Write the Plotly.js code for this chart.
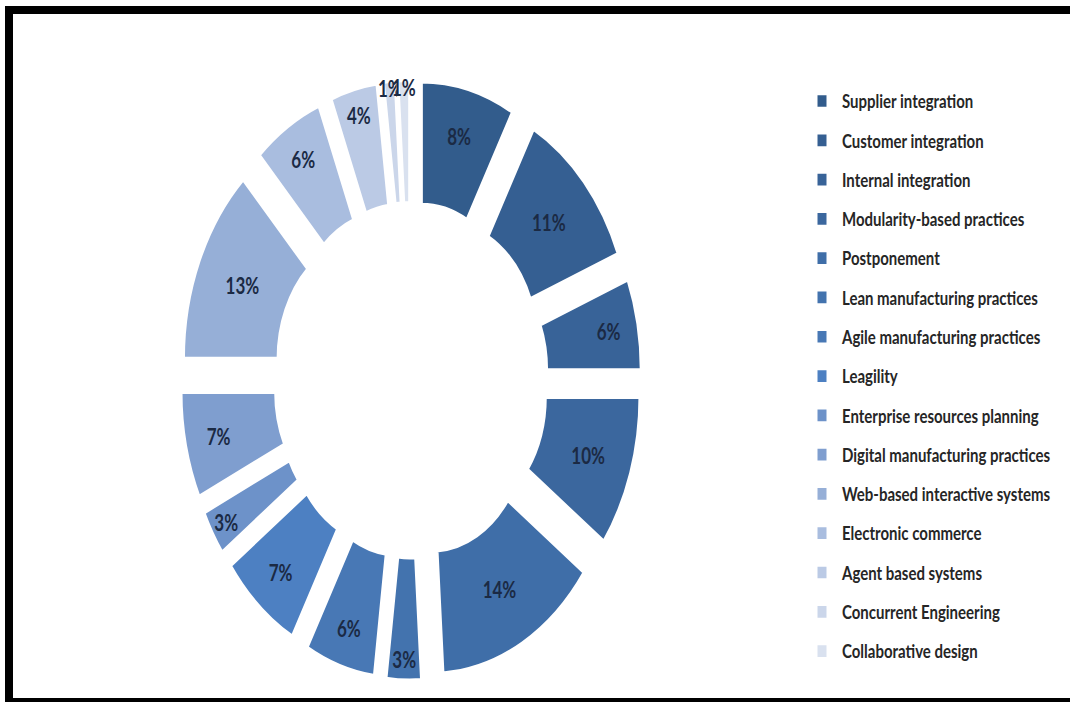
<!DOCTYPE html>
<html>
<head>
<meta charset="utf-8">
<script src="https://cdn.plot.ly/plotly-3.0.1.min.js"></script>
<style>
  html, body { margin: 0; padding: 0; background: #ffffff; overflow: hidden; }
  #chart { position: absolute; left: 0; top: 0; width: 1070px; height: 540px;
           transform: scaleY(1.3); transform-origin: 0 0; }
  #frame { position: absolute; left: 5px; top: 6px; width: 1090px; height: 698px;
           box-sizing: border-box; border-top: 8px solid #000; border-left: 8px solid #000;
           border-bottom: 6px solid #000; pointer-events: none; z-index: 10; }
</style>
</head>
<body>
<div id="chart"></div>
<div id="frame"></div>
<script>
// ---- data ----
const categories = [
  "Supplier integration",
  "Customer integration",
  "Internal integration",
  "Modularity-based practices",
  "Postponement",
  "Lean manufacturing practices",
  "Agile manufacturing practices",
  "Leagility",
  "Enterprise resources planning",
  "Digital manufacturing practices",
  "Web-based interactive systems",
  "Electronic commerce",
  "Agent based systems",
  "Concurrent Engineering",
  "Collaborative design"
];
const shares = [8, 11, 6, 10, 14, 3, 6, 7, 3, 7, 13, 6, 4, 1, 1];

// ---- styles ----
const sliceColors = [
  "#325c8c", "#355f92", "#386398", "#3b679e", "#3f6ea8",
  "#4373ae", "#4878b5", "#4d80c2", "#6d92c9", "#7f9ecf",
  "#96afd7", "#a9bddf", "#bbcae5", "#cbd6ea", "#d9e1ef"
];

const legendLabels = categories.map(c =>
  '<span style="font-size:15px;baseline-shift:3px">' + c + '</span>');

const trace = {
  type: 'pie',
  labels: legendLabels,
  values: shares,
  sort: false,
  direction: 'clockwise',
  rotation: 0,
  hole: 0.5,
  pull: 0.22,
  marker: { colors: sliceColors, line: { color: '#ffffff', width: 3 } },
  texttemplate: '%{value}%',
  textposition: 'inside',
  insidetextorientation: 'horizontal',
  textfont: { family: 'Lato, "Open Sans", sans-serif', size: 17, color: '#1b2a44', weight: 'bold' },
  domain: { x: [180 / 1070, 642 / 1070], y: [1 - 524 / 540, 1 - 61 / 540] },
  hoverinfo: 'none'
};

const layout = {
  width: 1070,
  height: 540,
  margin: { l: 0, r: 0, t: 0, b: 0 },
  paper_bgcolor: '#ffffff',
  plot_bgcolor: '#ffffff',
  showlegend: true,
  uniformtext: { mode: 'show', minsize: 17 },
  legend: {
    x: 802 / 1070,
    y: 1 - 57.6 / 540,
    xanchor: 'left',
    yanchor: 'top',
    bgcolor: 'rgba(0,0,0,0)',
    borderwidth: 0,
    font: { family: 'Lato, "Open Sans", sans-serif', size: 20.94, color: '#262626', weight: 'bold' }
  }
};

Plotly.newPlot('chart', [trace], layout, { staticPlot: true, displayModeBar: false });
</script>
</body>
</html>
